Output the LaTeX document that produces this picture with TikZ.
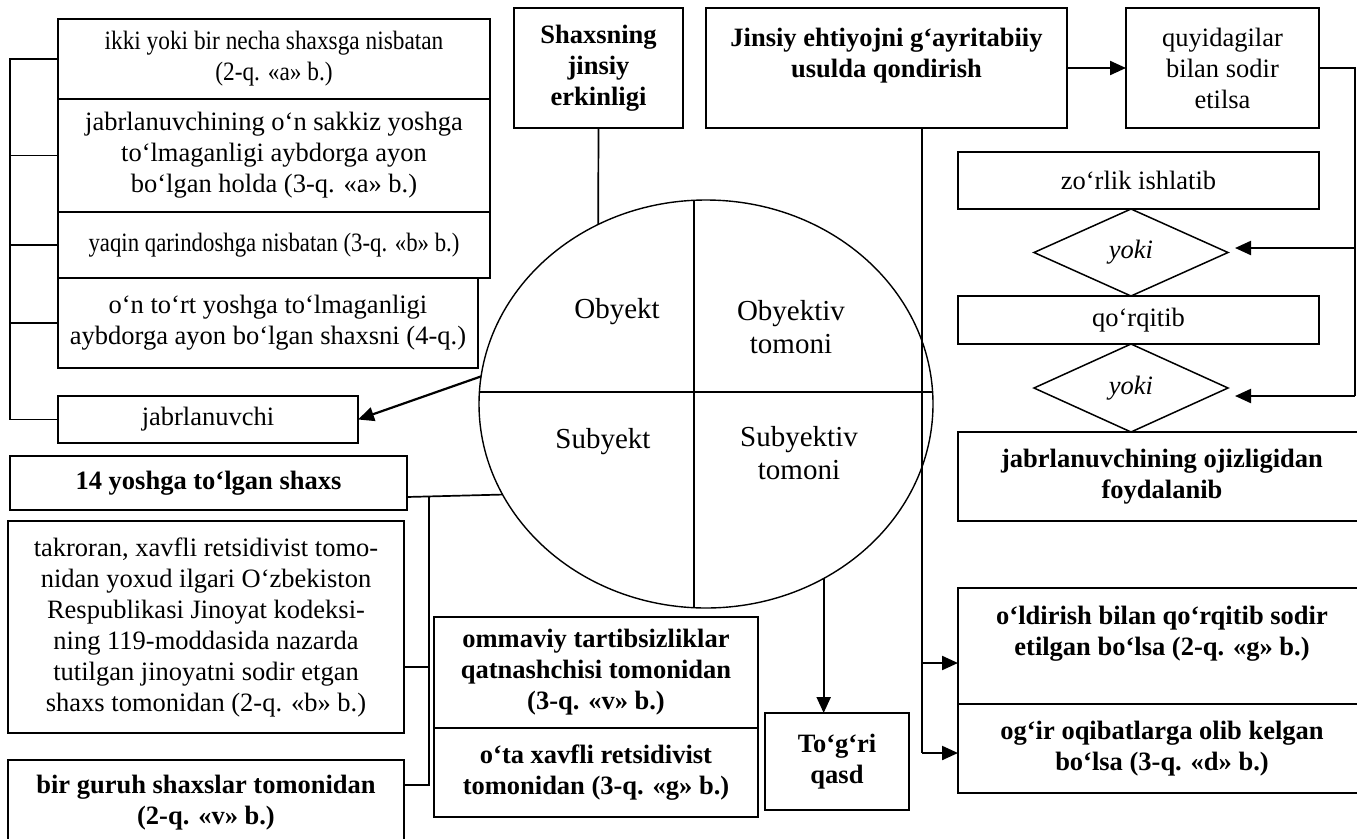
\documentclass[tikz,border=0pt]{standalone}
\usepackage{fontspec}
\setmainfont{Liberation Serif}
\usetikzlibrary{shapes.geometric,arrows.meta}
\newcommand\boxfont{\fontsize{26.5}{31}\selectfont}
\newcommand\ringfont{\fontsize{29}{33}\selectfont}

\begin{document}
\begin{tikzpicture}[x=1pt, y=-1pt,
	box/.style={draw, line width=1.9pt, inner sep=0pt, outer sep=0pt, align=center, font=\boxfont},
	boldbox/.style={box, font=\boxfont\bfseries},
	rhomb/.style={diamond, draw, line width=1.5pt, inner sep=0pt, outer sep=0pt, font=\boxfont\itshape},
	sector/.style={align=center, font=\ringfont},
	conn/.style={line width=1.7pt},
	arr/.style={line width=2.2pt, -{Triangle[length=16pt, width=14pt]}}]
	\useasboundingbox (0,0) rectangle (1357,838);
	\clip (0,0) rectangle (1357,838);

	\node[box, minimum width=432, minimum height=80, font=\boxfont\addfontfeature{FakeStretch=0.88}] (0) at (274,59) {ikki yoki bir necha shaxsga nisbatan\\(2-q. «a» b.)};
	\node[box, minimum width=432, minimum height=113] (1) at (274,155.5) {jabrlanuvchining o‘n sakkiz yoshga\\to‘lmaganligi aybdorga ayon\\bo‘lgan holda (3-q. «a» b.)};
	\node[box, minimum width=432, minimum height=66, font=\boxfont\addfontfeature{FakeStretch=0.86}] (2) at (274,245) {yaqin qarindoshga nisbatan (3-q. «b» b.)};
	\node[box, minimum width=420, minimum height=90] (3) at (268,323) {o‘n to‘rt yoshga to‘lmaganligi\\aybdorga ayon bo‘lgan shaxsni (4-q.)};
	\node[box, minimum width=300, minimum height=47] (4) at (208,419.5) {jabrlanuvchi};
	\node[boldbox, minimum width=397, minimum height=54] (5) at (208.5,483) {14 yoshga to‘lgan shaxs};
	\node[box, minimum width=396, minimum height=212] (6) at (206,627) {takroran, xavfli retsidivist tomo-\\nidan yoxud ilgari O‘zbekiston\\Respublikasi Jinoyat kodeksi-\\ning 119-moddasida nazarda\\tutilgan jinoyatni sodir etgan\\shaxs tomonidan (2-q. «b» b.)};
	\node[boldbox, minimum width=396, minimum height=85] (7) at (206,802.5) {bir guruh shaxslar tomonidan\\(2-q. «v» b.)};
	\node[boldbox, minimum width=169, minimum height=120] (8) at (598.5,68) {Shaxsning\\jinsiy\\erkinligi};
	\node[boldbox, minimum width=361, minimum height=120] (9) at (886.5,68) {Jinsiy ehtiyojni g‘ayritabiiy\\usulda qondirish\\\mbox{}};
	\node[box, minimum width=193, minimum height=120] (10) at (1222.5,68) {quyidagilar\\bilan sodir\\etilsa};
	\node[box, minimum width=361, minimum height=57] (11) at (1138.5,180.5) {zo‘rlik ishlatib};
	\node[rhomb, minimum width=194, minimum height=87] (12) at (1131,252.5) {yoki};
	\node[box, minimum width=361, minimum height=48] (13) at (1138.5,320) {qo‘rqitib};
	\node[rhomb, minimum width=194, minimum height=88] (14) at (1131,388) {yoki};
	\node[boldbox, minimum width=408, minimum height=89] (15) at (1162,476.5) {jabrlanuvchining ojizligidan\\foydalanib};

	\node[ellipse, draw, line width=1.4pt, minimum width=454, minimum height=408, inner sep=0pt, outer sep=0pt] (16) at (706,404) {};
	\begin{scope}
		\clip (16.center) ellipse [x radius=227pt, y radius=204pt];
		\draw[line width=1.4pt] (694,150) -- (694,650) (450,392) -- (960,392);
	\end{scope}
	\node[sector] (17) at (617,312) {Obyekt};
	\node[sector] (18) at (791,327) {Obyektiv\\tomoni};
	\node[sector] (19) at (603,442) {Subyekt};
	\node[sector] (20) at (799,453) {Subyektiv\\tomoni};

	\node[boldbox, minimum width=324, minimum height=111] (21) at (596,672.5) {ommaviy tartibsizliklar\\qatnashchisi tomonidan\\(3-q. «v» b.)};
	\node[boldbox, minimum width=324, minimum height=89] (22) at (596,772.5) {o‘ta xavfli retsidivist\\tomonidan (3-q. «g» b.)};
	\node[boldbox, minimum width=144, minimum height=97] (23) at (837,761.5) {To‘g‘ri\\qasd};
	\node[boldbox, minimum width=408, minimum height=116] (24) at (1162,646) {o‘ldirish bilan qo‘rqitib sodir\\etilgan bo‘lsa (2-q. «g» b.)\\\mbox{}};
	\node[boldbox, minimum width=408, minimum height=89] (25) at (1162,748.5) {og‘ir oqibatlarga olib kelgan\\bo‘lsa (3-q. «d» b.)};

	\coordinate (b) at (10,0);
	\draw[conn] (0.west) -| (b |- 4.west) -- (4.west);
	\foreach \n in {1,2,3}
		\draw[conn] (\n.west) -- (\n.west -| b);
	\draw[arr] (16.173.2) -- (4.east);

	\coordinate (k) at (429,497);
	\coordinate (m) at (429,667);
	\coordinate (n) at (429,785);
	\draw[conn] (5.east |- k) -- (16.204.7);
	\draw[conn] (k) -- (n) -- (n -| 7.east);
	\draw[conn] (m) -- (m -| 6.east);

	\draw[conn] (8.south) -- (16.121);
	\draw[arr] (16.304.7) -- (16.304.7 |- 23.north);

	\coordinate (t) at (922,663);
	\coordinate (u) at (922,753);
	\draw[conn] (9.south -| t) -- (u);
	\draw[arr] (t) -- (t -| 24.west);
	\draw[arr] (u) -- (u -| 25.west);

	\draw[arr] (9.east) -- (10.west);
	\coordinate (r) at (1355,248);
	\coordinate (s) at (1355,396);
	\draw[conn] (10.east) -| (s);
	\draw[arr, shorten >=7pt] (r) -- (r -| 12.east);
	\draw[arr, shorten >=7pt] (s) -- (s -| 14.east);
\end{tikzpicture}
\end{document}
